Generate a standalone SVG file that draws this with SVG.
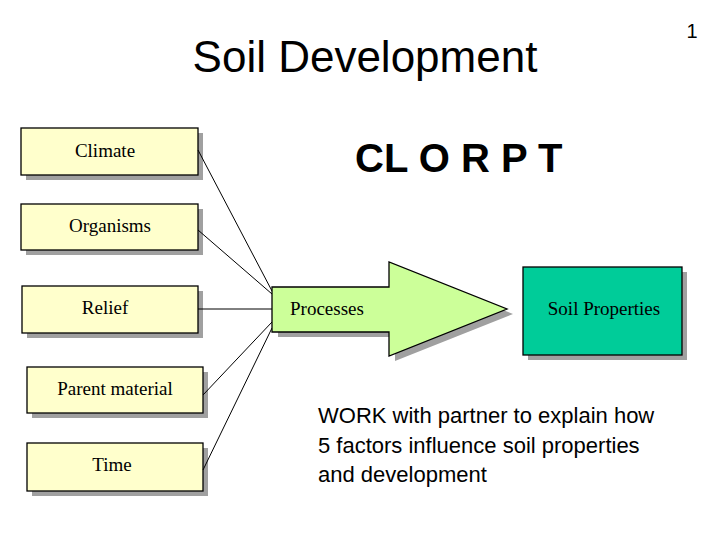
<svg xmlns="http://www.w3.org/2000/svg" width="720" height="540" viewBox="0 0 720 540">
<style>
.box{fill:#FFFFCC;stroke:#000;stroke-width:1.3}
.sh{fill:#a0a0a0}
.lbl{font-family:"Liberation Serif",serif;font-size:19px;fill:#000;text-anchor:middle}
.con{stroke:#000;stroke-width:1;fill:none}
.sans{font-family:"Liberation Sans",Arial,sans-serif;fill:#000}
</style>
<rect width="720" height="540" fill="#fff"/>
<text class="sans" x="365" y="72" font-size="44" text-anchor="middle">Soil Development</text>
<text class="sans" x="692" y="38" font-size="20" text-anchor="middle">1</text>
<text class="sans" x="355" y="172" font-size="40" font-weight="bold">CL O R P T</text>
<g id="climate">
<rect class="sh" x="26" y="133" width="177" height="47"/>
<rect class="box" x="21" y="128" width="177" height="47"/>
<text class="lbl" x="105" y="157">Climate</text>
</g>
<g id="organisms">
<rect class="sh" x="26" y="209" width="177" height="46"/>
<rect class="box" x="21" y="204" width="177" height="46"/>
<text class="lbl" x="110" y="232">Organisms</text>
</g>
<g id="relief">
<rect class="sh" x="27" y="291" width="176" height="47"/>
<rect class="box" x="22" y="286" width="176" height="47"/>
<text class="lbl" x="105" y="314">Relief</text>
</g>
<g id="parent">
<rect class="sh" x="32" y="372" width="176" height="46"/>
<rect class="box" x="27" y="367" width="176" height="46"/>
<text class="lbl" x="115" y="395">Parent material</text>
</g>
<g id="time">
<rect class="sh" x="32" y="448" width="176" height="48"/>
<rect class="box" x="27" y="443" width="176" height="48"/>
<text class="lbl" x="112" y="471">Time</text>
</g>
<g id="connectors">
<line class="con" x1="198" y1="150" x2="272" y2="291"/>
<line class="con" x1="198" y1="230" x2="272" y2="294"/>
<line class="con" x1="198" y1="309" x2="272" y2="309" stroke-width="1.5"/>
<line class="con" x1="203" y1="395" x2="272" y2="322"/>
<line class="con" x1="203" y1="470" x2="272" y2="328"/>
</g>
<g id="processes">
<polygon class="sh" points="278,292 395,292 395,267 513,314 395,361 395,337 278,337"/>
<polygon points="272,287 389,287 389,262 507,309 389,356 389,332 272,332" fill="#CCFF99" stroke="#000" stroke-width="1.3"/>
<text class="lbl" x="327" y="315">Processes</text>
</g>
<g id="soil">
<rect class="sh" x="528" y="272" width="159" height="88"/>
<rect x="523" y="267" width="159" height="88" fill="#00CC99" stroke="#000" stroke-width="1.3"/>
<text class="lbl" x="604" y="315">Soil Properties</text>
</g>
<g class="sans" font-size="22">
<text x="318" y="423">WORK with partner to explain how</text>
<text x="318" y="453">5 factors influence soil properties</text>
<text x="318" y="482">and development</text>
</g>
</svg>
